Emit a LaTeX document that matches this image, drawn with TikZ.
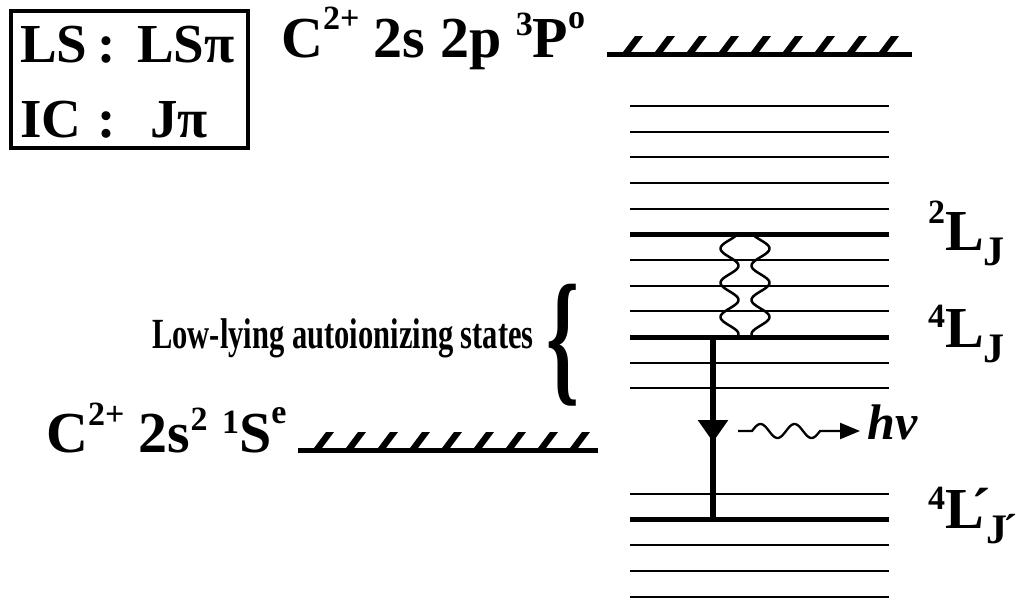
\documentclass[tikz,border=0pt]{standalone}
\usepackage{fontspec}
\setmainfont{Liberation Serif}
\usepackage{graphicx}
\usetikzlibrary{arrows.meta,decorations.markings}

\newcommand\bigtxt{\fontsize{58}{60}\selectfont\bfseries}
\newcommand\boxtxt{\fontsize{55}{57}\selectfont\bfseries}
\newcommand\supA[2][24pt]{\raisebox{#1}{\fontsize{34}{34}\selectfont #2}}
\newcommand\subB[1]{\raisebox{-15pt}{\fontsize{42}{42}\selectfont #1}}

\tikzset{
  thinlevel/.style={line width=1.8pt},
  thicklevel/.style={line width=5pt},
  bound/.style={line width=5pt},
  hatchmark/.style={fill=black},
  lbl/.style={inner sep=0pt, anchor=base west, font=\bigtxt},
  wavy/.style={line width=2.5pt, line join=round},
  photon/.style={line width=2.3pt, -{Triangle[length=20pt,width=16pt]}},
  decay/.style={line width=6pt, postaction={decorate},
    decoration={markings, mark=at position 0.575 with {\arrow{Triangle[length=22pt,width=29pt]}}}},
}

\begin{document}
\begin{tikzpicture}[x=1pt,y=-1pt]
\useasboundingbox (0,0) rectangle (1027,605);

% legend box
\node[draw, line width=4pt, minimum width=237pt, minimum height=137pt, inner sep=0pt, anchor=north west] (box) at (9.3,9.3) {};
\node[lbl, font=\boxtxt] (ls) at (20,62) {\makebox[77pt][l]{LS}\makebox[40pt][l]{:}LSπ};
\node[lbl, font=\boxtxt] (ic) at (20,137) {\makebox[77pt][l]{IC}\makebox[53pt][l]{:}Jπ};

% thresholds
\node[lbl] (topthr) at (281,57) {C\supA[28pt]{2+} 2s 2p \supA[22pt]{3}P\supA[29pt]{o}};
\coordinate (tA) at (607,54);
\coordinate (tB) at (912,54);
\draw[bound] (tA) -- (tB);
\foreach \k in {0,...,8}
  \fill[hatchmark] (623+32*\k,52) -- (631+32*\k,52) -- (643+32*\k,36) -- (635+32*\k,36) -- cycle;

\node[lbl] (botthr) at (46,452) {C\supA[27pt]{2+} 2s\supA[22pt]{2} \supA[19pt]{1}S\supA[29pt]{e}};
\coordinate (bA) at (298,450);
\coordinate (bB) at (598,450);
\draw[bound] (bA) -- (bB);
\foreach \k in {0,...,8}
  \fill[hatchmark] (314+32*\k,448) -- (322+32*\k,448) -- (334+32*\k,432) -- (326+32*\k,432) -- cycle;

% thin levels
\foreach \y [count=\i] in {106,131.7,157.3,183,208.6,260,285.6,311.2,362.6,388.3,494.3,545.3,571,597}{
  \coordinate (l\i a) at (630,\y);
  \coordinate (l\i b) at (889,\y);
  \draw[thinlevel] (l\i a) -- (l\i b);
}
% thick levels
\coordinate (dA) at (630,234.3); \coordinate (dB) at (889,234.3);
\coordinate (qA) at (630,337);   \coordinate (qB) at (889,337);
\coordinate (pA) at (630,519.7); \coordinate (pB) at (889,519.7);
\draw[thicklevel] (dA) -- (dB);
\draw[thicklevel] (qA) -- (qB);
\draw[thicklevel] (pA) -- (pB);

% coupling wavy lines
\draw[wavy] plot[domain=0:102.7, samples=90, smooth] ({729.5-9*sin(10.517*\x-60)},{234.3+\x});
\draw[wavy] plot[domain=0:102.7, samples=90, smooth] ({760.5+9*sin(10.517*\x-60)},{234.3+\x});

% radiative decay
\coordinate (ar0) at (713,337);
\coordinate (ar1) at (713,519.7);
\draw[decay] (ar0) -- (ar1);

% photon
\coordinate (ph0) at (738,431);
\coordinate (ph1) at (860,431);
\draw[photon] (ph0) -- (752,431) -- plot[domain=0:68, samples=60, smooth] ({752+\x},{431-7*sin(10.588*\x)}) -- (ph1);
\node[inner sep=0pt, anchor=base west, font=\fontsize{50}{50}\selectfont\bfseries\itshape] (hnu) at (867,439) {hν};

% labels
\node[lbl] (l2) at (928,250) {\supA[27pt]{2}L\subB{J}};
\node[lbl] (l4) at (928,347) {\supA[20pt]{4}L\subB{J}};
\node[lbl] (l4p) at (928,528) {\supA[19pt]{4}L\kern-12pt´\kern-5pt\subB{J\kern-4pt´}};

% low-lying states
\node[inner sep=0pt, anchor=base west] (low) at (152,348) {\scalebox{0.71}[1]{\fontsize{43}{43}\selectfont\bfseries Low-lying autoionizing states}};
\node[inner sep=0pt] (brace) at (563,345) {\resizebox*{33pt}{122pt}{\bfseries\{}};
\end{tikzpicture}
\end{document}
